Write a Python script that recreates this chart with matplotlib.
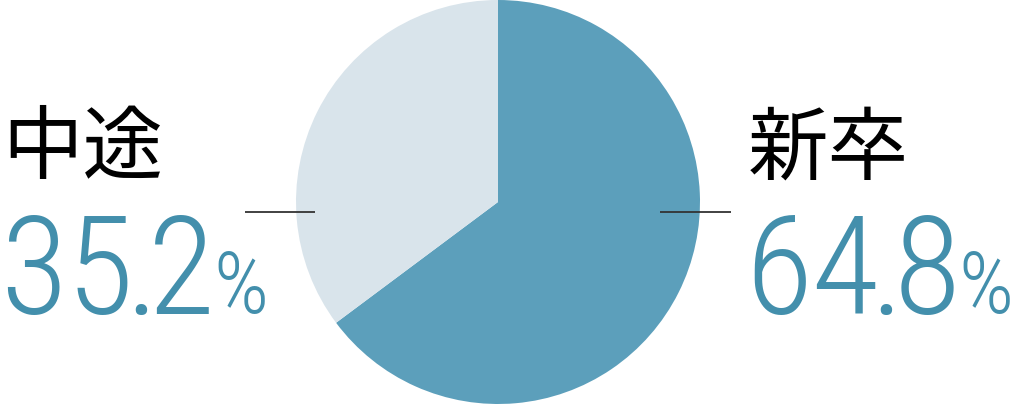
import matplotlib
matplotlib.use("Agg")
import matplotlib.pyplot as plt
from matplotlib import font_manager

labels = ["新卒", "中途"]
shares = [64.8, 35.2]
colors = ["#5c9fbb", "#d9e4eb"]
text_teal = "#438fac"

avail = {f.name for f in font_manager.fontManager.ttflist}
num_font = "DejaVu Sans"
for cand in ["Liberation Sans Narrow", "Roboto Condensed", "DejaVu Sans Condensed", "Liberation Sans"]:
    if cand in avail:
        num_font = cand
        break
jp_font = ["Noto Sans CJK JP", "DejaVu Sans"]

W, H = 1018, 404
fig = plt.figure(figsize=(W / 100, H / 100), dpi=100)
ax = fig.add_axes([0, 0, 1, 1])

# pie: starts at 12 o'clock, clockwise
ax.pie(shares, colors=colors, startangle=90, counterclock=False,
       center=(498, 202), radius=202, frame=True,
       wedgeprops=dict(linewidth=0))
ax.set_xlim(0, W)
ax.set_ylim(0, H)
ax.set_aspect("equal")
ax.axis("off")

# leader lines
ax.plot([245, 315], [192, 192], color="#333333", lw=1.3, solid_capstyle="butt")
ax.plot([660, 731], [192, 192], color="#333333", lw=1.3, solid_capstyle="butt")

inv = ax.transData.inverted()

def put(x, s, size, y, gap):
    t = ax.text(x, y, s, family=num_font, fontsize=size, color=text_teal,
                fontweight=300, ha="left", va="baseline")
    fig.canvas.draw()
    x1 = inv.transform((t.get_window_extent().x1, 0))[0]
    return x1 + gap

def label_block(x_name, x_num, name, share):
    ax.text(x_name, 254, name, family=jp_font, fontsize=58, color="black",
            ha="left", va="center")
    whole, frac = f"{share:.1f}".split(".")
    # tighter tracking around the decimal point
    x = put(x_num, whole, 99, 90, -8)
    x = put(x, ".", 99, 90, -10)
    x = put(x, frac, 99, 90, -2)
    put(x, "%", 62, 91, 0)

label_block(2, 0, labels[1], shares[1])
label_block(748, 745, labels[0], shares[0])

fig.savefig("out.png", dpi=100)
